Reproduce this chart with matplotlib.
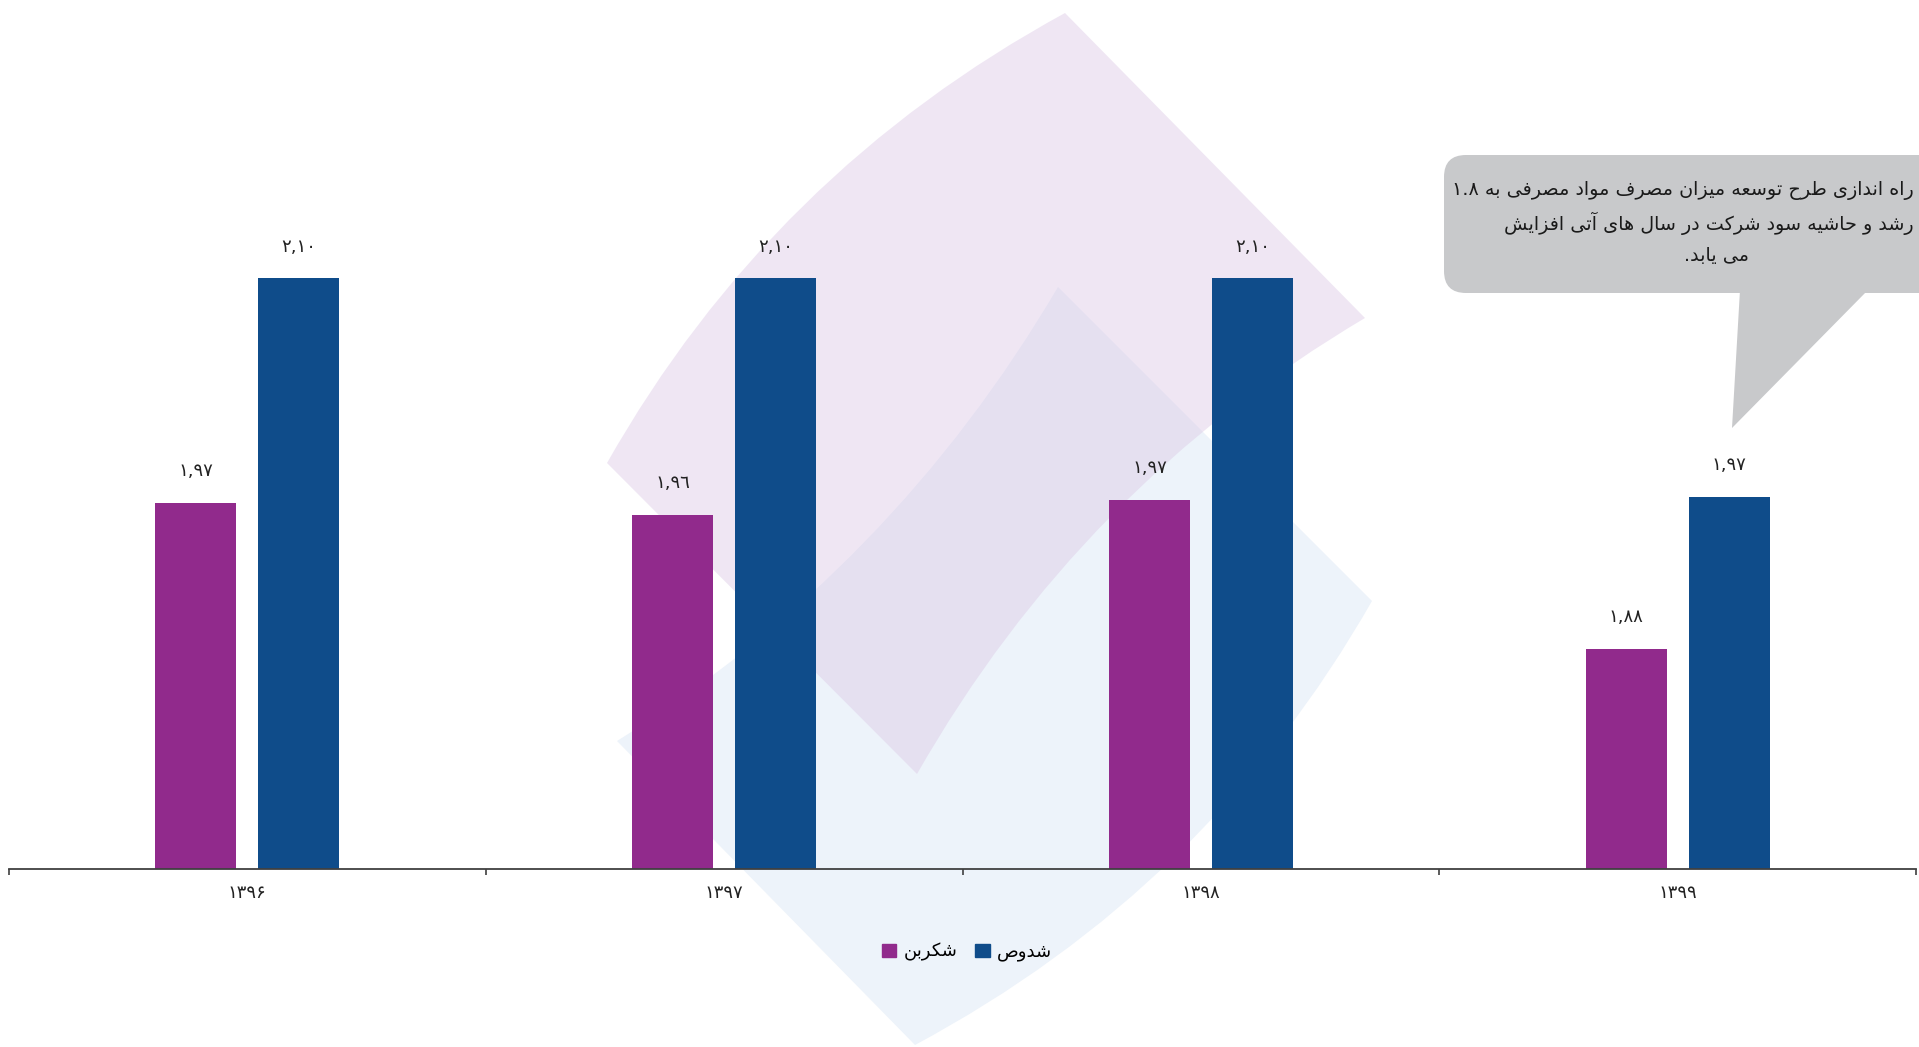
import re
import matplotlib
matplotlib.use('Agg')
import matplotlib.pyplot as plt
from matplotlib.patches import PathPatch, FancyBboxPatch, Polygon, Patch
from matplotlib.path import Path
from matplotlib.transforms import Affine2D

# data
years = ['۱۳۹۶', '۱۳۹۷', '۱۳۹۸', '۱۳۹۹']
shekarbon = [1.966, 1.959, 1.968, 1.879]
shedous = [2.10, 2.10, 2.10, 1.97]
series_names = ['شکربن', 'شدوص']
note_lines = ['راه اندازی طرح توسعه میزان مصرف مواد مصرفی به ۱.۸',
              'رشد و حاشیه سود شرکت در سال های آتی افزایش',
              'می یابد.']

purple = '#912A8C'
blue = '#0F4C8A'

# --- minimal arabic/persian shaping (matplotlib has no text shaping) ---
DUAL = {
    'ب': 'ﺏﺐﺑﺒ', 'پ': 'ﭖﭗﭘﭙ', 'ت': 'ﺕﺖﺗﺘ', 'ث': 'ﺙﺚﺛﺜ', 'ج': 'ﺝﺞﺟﺠ',
    'چ': 'ﭺﭻﭼﭽ', 'ح': 'ﺡﺢﺣﺤ', 'خ': 'ﺥﺦﺧﺨ', 'س': 'ﺱﺲﺳﺴ', 'ش': 'ﺵﺶﺷﺸ',
    'ص': 'ﺹﺺﺻﺼ', 'ض': 'ﺽﺾﺿﻀ', 'ط': 'ﻁﻂﻃﻄ', 'ظ': 'ﻅﻆﻇﻈ', 'ع': 'ﻉﻊﻋﻌ',
    'غ': 'ﻍﻎﻏﻐ', 'ف': 'ﻑﻒﻓﻔ', 'ق': 'ﻕﻖﻗﻘ', 'ک': 'ﮎﮏﮐﮑ', 'گ': 'ﮒﮓﮔﮕ',
    'ل': 'ﻝﻞﻟﻠ', 'م': 'ﻡﻢﻣﻤ', 'ن': 'ﻥﻦﻧﻨ', 'ه': 'ﻩﻪﻫﻬ', 'ی': 'ﯼﯽﯾﯿ',
}
RIGHT = {'ا': 'ﺍﺎ', 'آ': 'ﺁﺂ', 'د': 'ﺩﺪ', 'ذ': 'ﺫﺬ', 'ر': 'ﺭﺮ', 'ز': 'ﺯﺰ',
         'ژ': 'ﮊﮋ', 'و': 'ﻭﻮ'}
LAMALEF = {'ا': 'ﻻﻼ', 'آ': 'ﻵﻶ'}


def shape(text):
    out = []
    i = 0
    while i < len(text):
        c = text[i]
        if c not in DUAL and c not in RIGHT:
            out.append(c)
            i += 1
            continue
        prev_conn = i > 0 and text[i - 1] in DUAL
        nxt = text[i + 1] if i + 1 < len(text) else ''
        if c == 'ل' and nxt in LAMALEF:
            out.append(LAMALEF[nxt][1 if prev_conn else 0])
            i += 2
            continue
        next_conn = c in DUAL and (nxt in DUAL or nxt in RIGHT)
        if c in DUAL:
            f = DUAL[c]
            out.append(f[3] if prev_conn and next_conn else f[1] if prev_conn
                       else f[2] if next_conn else f[0])
        else:
            out.append(RIGHT[c][1 if prev_conn else 0])
        i += 1
    return ''.join(out)


def fa(text):
    # shape, then put into visual order, keeping numbers left-to-right
    s = shape(text)[::-1]
    return re.sub(r'[0-9٠-٩۰-۹]+(?:[.,٫][0-9٠-٩۰-۹]+)*', lambda m: m.group()[::-1], s)


def ar_num(v):
    s = f'{v:.2f}'.replace('.', ',')
    return s.translate(str.maketrans('0123456789', '٠١٢٣٤٥٦٧٨٩'))


plt.rcParams['font.family'] = ['DejaVu Sans']

W, H = 1919, 1047
fig = plt.figure(figsize=(W / 100, H / 100), dpi=100, facecolor='white')
# reference-pixel coordinates (y down) for the decorations
px = Affine2D().scale(1 / W, -1 / H).translate(0, 1) + fig.transFigure


def ribbon(corners, bend1, bend2, color):
    # corners: left, top, right, bottom; long edges left->top and right->bottom are bent
    (lx, ly), (tx, ty), (rx, ry), (bx, by) = corners
    c1 = ((lx + tx) / 2 + bend1, (ly + ty) / 2 + bend1)
    c2 = ((rx + bx) / 2 + bend2, (ry + by) / 2 + bend2)
    verts = [(lx, ly), c1, (tx, ty), (rx, ry), c2, (bx, by), (lx, ly)]
    codes = [Path.MOVETO, Path.CURVE3, Path.CURVE3, Path.LINETO,
             Path.CURVE3, Path.CURVE3, Path.CLOSEPOLY]
    return PathPatch(Path(verts, codes), facecolor=color, edgecolor='none',
                     transform=px, zorder=-10)


# watermark logo behind the chart
fig.patches.append(ribbon([(617, 741), (1058, 287), (1372, 601), (915, 1045)],
                          55, 65, '#EDF3FA'))
lav = ribbon([(607, 463), (1065, 13), (1365, 318), (917, 774)], -65, -60, '#DCC9E6')
lav.set_alpha(0.45)
fig.patches.append(lav)

ax = fig.add_axes([9 / W, 178 / H, 1907 / W, 869 / H])
ax.set_facecolor('none')

x = list(range(len(years)))
width = 0.17
ax.bar([i - 0.108 for i in x], shekarbon, width=width, color=purple, label=fa(series_names[0]))
ax.bar([i + 0.108 for i in x], shedous, width=width, color=blue, label=fa(series_names[1]))

for i in x:
    ax.annotate(ar_num(shekarbon[i]), (i - 0.108, shekarbon[i]), xytext=(0, 23),
                textcoords='offset points', ha='center', va='center', fontsize=13, color='#222222')
    ax.annotate(ar_num(shedous[i]), (i + 0.108, shedous[i]), xytext=(0, 23),
                textcoords='offset points', ha='center', va='center', fontsize=13, color='#222222')

ax.set_xlim(-0.5, len(years) - 0.5)
ax.set_ylim(1.748, 2.266)
ax.set_xticks(x)
ax.set_xticklabels(years, fontsize=13, color='#222222')
ax.set_xticks([i - 0.5 for i in range(len(years) + 1)], minor=True)
ax.tick_params(axis='x', which='major', length=0, pad=11)
ax.tick_params(axis='x', which='minor', length=4, width=1.2, color='#404040', direction='out')
ax.set_yticks([])
for side in ['top', 'left', 'right']:
    ax.spines[side].set_visible(False)
ax.spines['bottom'].set_color('#404040')
ax.spines['bottom'].set_linewidth(1.3)

handles = [Patch(color=purple), Patch(color=blue)]
fig.legend(handles, [fa(n) for n in series_names], loc='center', ncol=2,
           bbox_to_anchor=(967 / W, 1 - 952 / H), frameon=False, fontsize=13,
           handlelength=0.8, handleheight=0.8, handletextpad=0.4, columnspacing=1.0)

# callout bubble (runs off the right edge, as in the reference)
gray = '#C8C9CB'
fig.patches.append(FancyBboxPatch((1444, 155), 560, 138, boxstyle='round,pad=0,rounding_size=22',
                                  facecolor=gray, edgecolor='none', transform=px, zorder=5))
fig.patches.append(Polygon([(1740, 290), (1868, 290), (1732, 428)], closed=True,
                           facecolor=gray, edgecolor='none', transform=px, zorder=5))
# the first two lines are longer than the visible part of the bubble, keep them inside the figure
line_pos = [(1914, 190, 'right'), (1914, 223, 'right'), (1716, 255, 'center')]
for line, (lx, ly, ha) in zip(note_lines, line_pos):
    fig.text(lx / W, 1 - ly / H, fa(line), ha=ha, va='center', fontsize=13.8,
             color='#1a1a1a', zorder=6)

fig.savefig('out.png', dpi=100, facecolor='white')
